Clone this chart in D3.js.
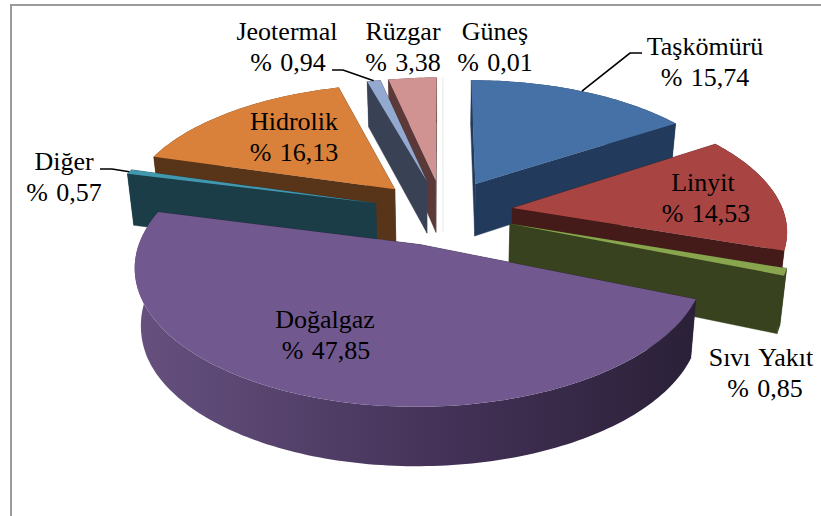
<!DOCTYPE html>
<html><head><meta charset="utf-8">
<script src="https://cdn.jsdelivr.net/npm/d3@7"></script>
<style>html,body{margin:0;padding:0;background:#fff}svg{display:block}text{font-family:"Liberation Serif","Times New Roman",serif;font-size:26px;word-spacing:2px;fill:#000;text-anchor:middle}</style>
</head><body><svg id="c" width="821" height="516"></svg>
<script>
const categories = ["Taşkömürü","Linyit","Sıvı Yakıt","Doğalgaz","Diğer","Hidrolik","Jeotermal","Rüzgar","Güneş"];
const values = [15.74,14.53,0.85,47.85,0.57,16.13,0.94,3.38,0.01];
const valueLabels = ["% 15,74","% 14,53","% 0,85","% 47,85","% 0,57","% 16,13","% 0,94","% 3,38","% 0,01"];
const topColors = ["#4671A7","#A84442","#89A54E","#71588F","#4198AF","#D9813B","#93A9CF","#D19392","#E8EEDD"];
const sideColors = ["#223A5B","#451B1A","#38421F","#2B2138","#1B3D48","#583418","#394255","#5A3938","#EEEEEE"];
const labelX = [705,703,761,325,64,294,287,403,495];
const labelY = [55,191,366,328,170,130,40,40,40];
const labelX2 = [705,706,765,326,64,294,288,403,495];
const leaderElbow = {0:[642,53,630,53],4:[100,169,112,169],6:[332,70,343,70]};

const cx=443, cy=212, A=271, B=127, P=0.15, EXPLODE=0.26, DEPTH=54, SHRINK=0.98;
const svg=d3.select("#c");
const defs=svg.append("defs");
const g=defs.append("linearGradient").attr("id","purpleSide").attr("gradientUnits","userSpaceOnUse")
  .attr("x1",135).attr("x2",695).attr("y1",0).attr("y2",0);
g.append("stop").attr("offset",0).attr("stop-color","#66517F");
g.append("stop").attr("offset",0.55).attr("stop-color","#443258");
g.append("stop").attr("offset",1).attr("stop-color","#2A2037");

// frame
svg.append("path").attr("d",d3.line()([[11,516],[11,5],[821,5]])).attr("fill","none").attr("stroke","#9a9a9a").attr("stroke-width",2);

const arcs=d3.pie().sort(null).value(d=>d)(values).map((a,i)=>({...a,i,mid:(a.startAngle+a.endAngle)/2}));

function project(X,Z,down){
  const s=1/(1-P*Z);
  const px=X*A*s, py=Z*B*s;
  return down ? [cx+px*SHRINK, cy+py+DEPTH*Math.min(s,1.1)] : [cx+px, cy+py];
}
const pt=(a,th,r,down)=>{
  const ox=Math.sin(a.mid)*EXPLODE, oz=-Math.cos(a.mid)*EXPLODE;
  return project(ox+Math.sin(th)*r, oz-Math.cos(th)*r, down);
};
const line=d3.line();
const rim=(a,down)=>{
  const n=Math.max(2,Math.ceil((a.endAngle-a.startAngle)/0.02));
  return d3.range(n+1).map(k=>pt(a,a.startAngle+(a.endAngle-a.startAngle)*k/n,1,down));
};

const order=[...arcs].sort((p,q)=>(-Math.cos(p.mid))-(-Math.cos(q.mid)));
order.forEach(a=>{
  const gS=svg.append("g").attr("class","slice");
  const fill=a.i===3?"url(#purpleSide)":sideColors[a.i];
  const tApex=pt(a,0,0,false), bApex=pt(a,0,0,true);
  const tRim=rim(a,false), bRim=rim(a,true);
  // radial walls
  [[tRim[0],bRim[0]],[tRim[tRim.length-1],bRim[bRim.length-1]]].forEach(([t,b])=>{
    gS.append("path").attr("d",line([tApex,t,b,bApex])+"Z").attr("fill",sideColors[a.i]).attr("stroke",sideColors[a.i]).attr("stroke-width",0.4);
  });
  // outer wall
  gS.append("path").attr("d",line([...tRim,...bRim.slice().reverse()])+"Z").attr("fill",fill);
  // top
  gS.append("path").attr("d",line([tApex,...tRim])+"Z").attr("fill",topColors[a.i]);
});

// leaders
Object.keys(leaderElbow).map(Number).forEach(i=>{
  const e=leaderElbow[i], a=arcs[i];
  svg.append("path").attr("d",line([[e[0],e[1]],[e[2],e[3]],pt(a,a.mid,1,false)]))
    .attr("fill","none").attr("stroke","#000").attr("stroke-width",1.6);
});

// labels
categories.forEach((c,i)=>{
  svg.append("text").attr("x",labelX[i]).attr("y",labelY[i]).text(c);
  svg.append("text").attr("x",labelX2[i]).attr("y",labelY[i]+31).text(valueLabels[i]);
});
</script></body></html>
